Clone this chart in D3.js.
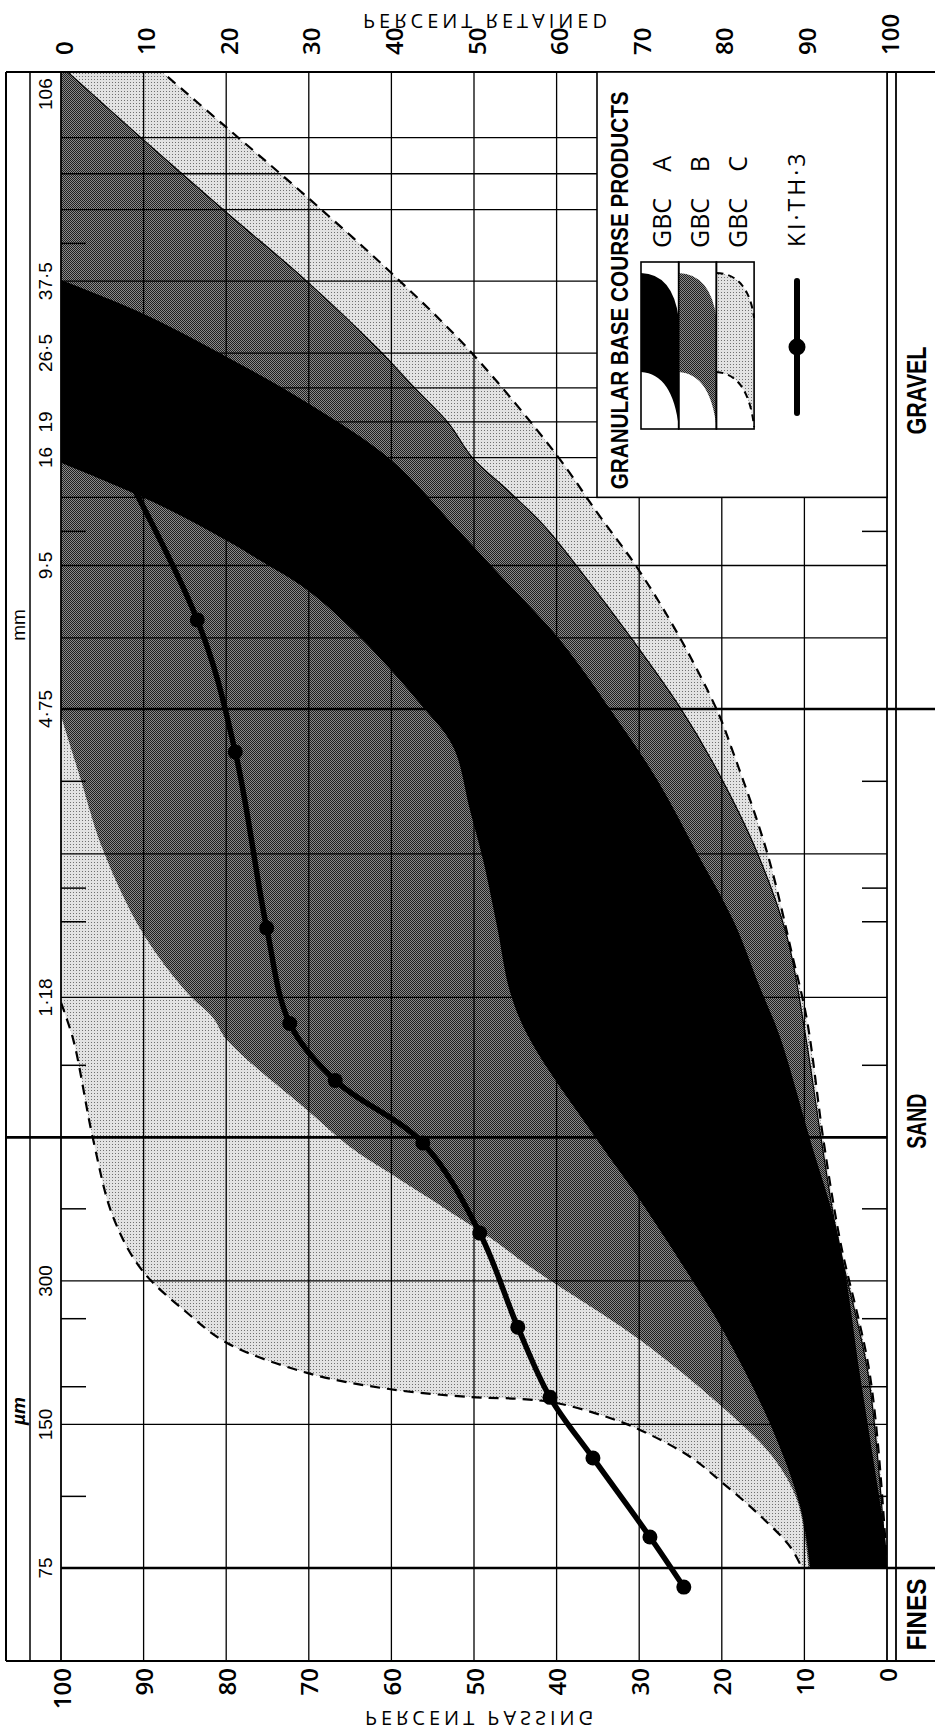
<!DOCTYPE html>
<html>
<head>
<meta charset="utf-8">
<script src="https://cdn.jsdelivr.net/npm/d3@7/dist/d3.min.js"></script>
<style>
    html, body { margin: 0; padding: 0; background: #fff; }
    svg { display: block; }
</style>
</head>
<body>
<div id="chart"></div>
<script>
// axis ticks
const percentTicks = [100, 90, 80, 70, 60, 50, 40, 30, 20, 10, 0]
const retainedTicks = [0, 10, 20, 30, 40, 50, 60, 70, 80, 90, 100]

// sieve sizes, mm
const sieveLines = [75, 63, 53, 37.5, 26.5, 22.4, 19, 16, 13.2, 9.5, 6.7, 4.75, 2.36, 1.18, 0.6, 0.3, 0.15, 0.075]
const sieveTicks = [45, 11.2, 3.35, 2, 1.7, 0.85, 0.425, 0.25, 0.18, 0.106]
const sieveLabels = [[37.5, `37·5`], [26.5, `26·5`], [19, `19`], [16, `16`], [9.5, `9·5`], [4.75, `4·75`], [1.18, `1·18`], [0.3, `300`], [0.15, `150`], [0.075, `75`]]
const zones = [[`GRAVEL`, 106, 4.75], [`SAND`, 4.75, 0.075], [`FINES`, 0.075, null]]

// envelopes: [sieve mm, % passing]
const gbcALower = [[37.7, 100], [32.2, 90.3], [26, 79.9], [20.8, 70.1], [15.8, 60], [11.3, 52], [9.2, 47.2], [6.63, 39.6], [4.66, 33.2], [3.37, 27.8], [2.37, 23], [1.71, 18.6], [1.24, 15.4], [0.98, 13], [0.593, 9.3], [0.366, 5.8], [0.192, 3.3], [0.128, 1.7], [0.086, 0.2], [0.075, 0]]
const gbcAUpper = [[15.6, 100], [12.85, 88.6], [10.7, 79.9], [9.75, 76], [8.44, 70.2], [6.72, 63.8], [4.8, 56.2], [3.95, 52.5], [2.92, 50.5], [2.29, 48.9], [1.66, 47.2], [1.205, 45.6], [0.96, 43.2], [0.593, 35.1], [0.443, 29.9], [0.283, 22.6], [0.237, 19.9], [0.151, 14.2], [0.1007, 10.5], [0.075, 9.3]]

const gbcBLower = [[106, 100], [76, 90.7], [52.1, 79.9], [38.1, 70.7], [26.9, 61.5], [22.5, 57.3], [18.9, 53.1], [16, 50.2], [13.5, 45.6], [11.5, 41.5], [9.3, 37.2], [6.63, 30.8], [4.8, 25.1], [3.54, 20.6], [2.37, 15.7], [1.58, 12.1], [0.99, 9.9], [0.6, 8], [0.37, 6], [0.192, 2.3], [0.086, 0.3], [0.075, 0]]
const gbcBUpper = [[4.6, 100], [3.42, 97.7], [2.4, 94.9], [1.61, 90.1], [1.205, 84.7], [1.07, 81.6], [0.96, 79.9], [0.685, 70.2], [0.573, 65], [0.505, 60.2], [0.429, 53.8], [0.366, 47.7], [0.332, 44.4], [0.301, 40.8], [0.2256, 29.9], [0.163, 19.9], [0.128, 13.8], [0.103, 10.8], [0.075, 9.5]]

const gbcCLower = [[106, 88.6], [78.6, 79.9], [56.3, 70.2], [39, 60], [26.9, 50.6], [16.2, 40], [12.2, 35], [9.43, 30.3], [6.86, 25.4], [4.73, 20.6], [3.84, 18.6], [2.37, 14.5], [1.43, 11.4], [1.06, 9.7], [0.593, 7.7], [0.366, 5.7], [0.192, 2.1], [0.086, 0.2], [0.075, 0]]
const gbcCUpper = [[1.15, 100], [0.96, 98.5], [0.593, 96.1], [0.409, 93.7], [0.316, 90.2], [0.257, 84.7], [0.2224, 79.9], [0.1924, 70.2], [0.178, 60.3], [0.1713, 50.4], [0.1697, 44.4], [0.1664, 40], [0.1555, 33.9], [0.1461, 29.9], [0.1282, 23.8], [0.1131, 19.9], [0.0978, 15.7], [0.083, 11.7], [0.075, 10.3]]

// sample KI-TH-3
const kith3 = [[26.5, 100], [7.3, 83.5], [3.86, 78.9], [1.65, 75.1], [1.04, 72.3], [0.79, 66.8], [0.584, 56.2], [0.378, 49.3], [0.24, 44.7], [0.171, 40.8], [0.1276, 35.6], [0.0871, 28.7], [0.0684, 24.6]]

const width = 935, height = 1736
const frame = { outer: 6, col: 30, top: 72, bottom: 1661, right: 896, edge: 935 }

const x = d3.scaleLinear().domain([100, 0]).range([61, 887])
const xr = d3.scaleLinear().domain([0, 100]).range([61, 887])
const y = d3.scaleLog().domain([106, 0.075]).range([66, 1568])

const svg = d3.select(`#chart`).append(`svg`).attr(`width`, width).attr(`height`, height)
const defs = svg.append(`defs`)

const patB = defs.append(`pattern`).attr(`id`, `stippleB`).attr(`width`, 2).attr(`height`, 2).attr(`patternUnits`, `userSpaceOnUse`)
patB.append(`rect`).attr(`width`, 2).attr(`height`, 2).attr(`fill`, `#8a8a8a`)
patB.append(`rect`).attr(`width`, 1).attr(`height`, 1).attr(`fill`, `#1e1e1e`)
patB.append(`rect`).attr(`x`, 1).attr(`y`, 1).attr(`width`, 1).attr(`height`, 1).attr(`fill`, `#1e1e1e`)

const patC = defs.append(`pattern`).attr(`id`, `stippleC`).attr(`width`, 3).attr(`height`, 3).attr(`patternUnits`, `userSpaceOnUse`)
patC.append(`rect`).attr(`width`, 3).attr(`height`, 3).attr(`fill`, `#e2e2e2`)
patC.append(`rect`).attr(`x`, 1).attr(`y`, 1).attr(`width`, 1).attr(`height`, 1).attr(`fill`, `#707070`)

defs.append(`clipPath`).attr(`id`, `plotClip`).append(`rect`)
    .attr(`x`, x(100)).attr(`y`, frame.top).attr(`width`, x(0) - x(100)).attr(`height`, frame.bottom - frame.top)

const curve = d3.line().x(d => x(d[1])).y(d => y(d[0])).curve(d3.curveCatmullRom.alpha(0.5))

function bandPath(lower, upper, corner) {
    let d = curve(lower) + `L` + curve(upper.slice().reverse()).slice(1)
    if(corner) d = `M${x(corner[1])},${y(corner[0])}L` + d.slice(1)
    return d + `Z`
}

const plot = svg.append(`g`).attr(`clip-path`, `url(#plotClip)`)

plot.append(`path`).attr(`d`, bandPath(gbcCLower, gbcCUpper, [106, 100])).attr(`fill`, `url(#stippleC)`)
plot.append(`path`).attr(`d`, bandPath(gbcBLower, gbcBUpper)).attr(`fill`, `url(#stippleB)`)
plot.append(`path`).attr(`d`, bandPath(gbcALower, gbcAUpper)).attr(`fill`, `#000`)

// grid
const grid = svg.append(`g`).attr(`stroke`, `#000`)
percentTicks.forEach(p => {
    grid.append(`line`).attr(`x1`, x(p)).attr(`x2`, x(p)).attr(`y1`, frame.top).attr(`y2`, frame.bottom)
        .attr(`stroke-width`, p === 100 || p === 0 ? 1.8 : 1.3)
})
sieveLines.forEach(s => {
    const heavy = s === 4.75 || s === 0.6 || s === 0.075
    let x1 = x(100), x2 = x(0)
    if(s === 0.6) x1 = frame.outer
    if(s === 4.75 || s === 0.075) x2 = frame.edge
    grid.append(`line`).attr(`x1`, x1).attr(`x2`, x2).attr(`y1`, y(s)).attr(`y2`, y(s))
        .attr(`stroke-width`, heavy ? 2.6 : 1.3)
})
sieveTicks.forEach(s => {
    grid.append(`line`).attr(`x1`, x(100)).attr(`x2`, x(100) + 25).attr(`y1`, y(s)).attr(`y2`, y(s)).attr(`stroke-width`, 1.5)
    grid.append(`line`).attr(`x1`, x(0) - 25).attr(`x2`, x(0)).attr(`y1`, y(s)).attr(`y2`, y(s)).attr(`stroke-width`, 1.5)
})

// envelope outlines
plot.append(`path`).attr(`d`, curve(gbcBLower)).attr(`fill`, `none`).attr(`stroke`, `#000`).attr(`stroke-width`, 1.2)
plot.append(`path`).attr(`d`, curve(gbcCLower)).attr(`fill`, `none`).attr(`stroke`, `#000`).attr(`stroke-width`, 2.2).attr(`stroke-dasharray`, `10,7`)
plot.append(`path`).attr(`d`, curve(gbcCUpper)).attr(`fill`, `none`).attr(`stroke`, `#000`).attr(`stroke-width`, 2.2).attr(`stroke-dasharray`, `10,7`)

// KI-TH-3
plot.append(`path`).attr(`d`, curve(kith3)).attr(`fill`, `none`).attr(`stroke`, `#000`).attr(`stroke-width`, 5.5).attr(`stroke-linecap`, `round`)
plot.selectAll(`circle.ki`).data(kith3).join(`circle`).attr(`class`, `ki`)
    .attr(`cx`, d => x(d[1])).attr(`cy`, d => y(d[0])).attr(`r`, 7.5).attr(`fill`, `#000`)

// frame
const fr = svg.append(`g`).attr(`stroke`, `#000`).attr(`fill`, `none`)
fr.append(`line`).attr(`x1`, frame.outer).attr(`x2`, frame.edge).attr(`y1`, frame.top).attr(`y2`, frame.top).attr(`stroke-width`, 2)
fr.append(`line`).attr(`x1`, frame.outer).attr(`x2`, frame.edge).attr(`y1`, frame.bottom).attr(`y2`, frame.bottom).attr(`stroke-width`, 2)
fr.append(`line`).attr(`x1`, frame.outer).attr(`x2`, frame.outer).attr(`y1`, frame.top).attr(`y2`, frame.bottom).attr(`stroke-width`, 2)
fr.append(`line`).attr(`x1`, frame.col).attr(`x2`, frame.col).attr(`y1`, frame.top).attr(`y2`, frame.bottom).attr(`stroke-width`, 1.5)
fr.append(`line`).attr(`x1`, frame.right).attr(`x2`, frame.right).attr(`y1`, frame.top).attr(`y2`, frame.bottom).attr(`stroke-width`, 1.8)

// legend
const legTop = frame.top, legBottom = y(13.2), legLeft = 597, legRight = x(0)
const leg = svg.append(`g`)
leg.append(`rect`).attr(`x`, legLeft).attr(`y`, legTop).attr(`width`, legRight - legLeft).attr(`height`, legBottom - legTop)
    .attr(`fill`, `#fff`).attr(`stroke`, `#000`).attr(`stroke-width`, 1.6)

function vtext(g, tx, ty, str, anchor) {
    return g.append(`text`).attr(`transform`, `translate(${tx},${ty}) rotate(-90)`)
        .attr(`text-anchor`, anchor).attr(`dominant-baseline`, `central`).text(str)
}

vtext(leg, 619, legBottom - 8, `GRANULAR BASE COURSE PRODUCTS`, `start`)
    .attr(`font-family`, `'Liberation Sans Narrow', 'Liberation Sans', sans-serif`).attr(`font-weight`, 700)
    .attr(`font-size`, 24).attr(`textLength`, 398).attr(`lengthAdjust`, `spacingAndGlyphs`)

const swatchTop = 262, swatchBottom = 429, swatchW = 37.7, swatchLeft = 641
const swatches = [[`A`, `#000`, null], [`B`, `url(#stippleB)`, null], [`C`, `url(#stippleC)`, `7,5`]]
swatches.forEach((s, i) => {
    const xl = swatchLeft + i * swatchW, xr2 = xl + swatchW
    const top = `M${xl},273 Q${xr2 - 6},274 ${xr2},318`
    const bot = `M${xl},372 Q${xr2 - 6},374 ${xr2},427`
    leg.append(`path`).attr(`d`, `M${xl},273 Q${xr2 - 6},274 ${xr2},318 L${xr2},427 Q${xr2 - 6},374 ${xl},372 Z`).attr(`fill`, s[1])
    if(s[2]) {
        leg.append(`path`).attr(`d`, top).attr(`fill`, `none`).attr(`stroke`, `#000`).attr(`stroke-width`, 2).attr(`stroke-dasharray`, s[2])
        leg.append(`path`).attr(`d`, bot).attr(`fill`, `none`).attr(`stroke`, `#000`).attr(`stroke-width`, 2).attr(`stroke-dasharray`, s[2])
    }
    leg.append(`rect`).attr(`x`, xl).attr(`y`, swatchTop).attr(`width`, swatchW).attr(`height`, swatchBottom - swatchTop)
        .attr(`fill`, `none`).attr(`stroke`, `#000`).attr(`stroke-width`, 1.6)
    const tx = 661 + i * 38
    vtext(leg, tx, 248, `GBC`, `start`).attr(`font-family`, `'Open Sans', sans-serif`).attr(`font-size`, 25)
    vtext(leg, tx, 156, s[0], `end`).attr(`font-family`, `'Open Sans', sans-serif`).attr(`font-size`, 25)
})

leg.append(`line`).attr(`x1`, 797).attr(`x2`, 797).attr(`y1`, 281).attr(`y2`, 413).attr(`stroke`, `#000`).attr(`stroke-width`, 6).attr(`stroke-linecap`, `round`)
leg.append(`circle`).attr(`cx`, 797).attr(`cy`, 347).attr(`r`, 8.5).attr(`fill`, `#000`)
vtext(leg, 796, 247, `KI·TH·3`, `start`).attr(`font-family`, `'Open Sans', sans-serif`).attr(`font-size`, 23)
    .attr(`letter-spacing`, 3)

// axis labels
const num = svg.append(`g`).attr(`font-family`, `'Open Sans', sans-serif`).attr(`font-weight`, 600).attr(`font-size`, 24).attr(`fill`, `#000`)
percentTicks.forEach(p => vtext(num, x(p), 1668, String(p), `end`))
retainedTicks.forEach(r => vtext(num, xr(r) + 2, 55, String(r), `start`))

const sv = svg.append(`g`).attr(`font-family`, `'Liberation Sans', sans-serif`).attr(`font-size`, 19).attr(`fill`, `#000`)
sieveLabels.forEach(d => vtext(sv, 45.5, y(d[0]), d[1], `middle`))
vtext(sv, 45.5, 110, `106`, `start`)
vtext(sv, 18, 625, `mm`, `middle`)
vtext(sv, 18, 1411, `µm`, `middle`).attr(`font-style`, `italic`).attr(`font-weight`, 700)

const zoneLen = { GRAVEL: 88, SAND: 55, FINES: 72 }
const zn = svg.append(`g`).attr(`font-family`, `'Liberation Sans Narrow', 'Liberation Sans', sans-serif`).attr(`font-weight`, 700).attr(`font-size`, 27)
zones.forEach(z => {
    const y0 = Math.max(y(z[1]), frame.top), y1 = z[2] === null ? frame.bottom : y(z[2])
    const mid = z[0] === `SAND` ? y0 + (y1 - y0) * 0.48 : (y0 + y1) / 2
    vtext(zn, 917, mid, z[0], `middle`).attr(`textLength`, zoneLen[z[0]]).attr(`lengthAdjust`, `spacingAndGlyphs`)
})

function flipped(cx, cy, str) {
    svg.append(`text`).attr(`transform`, `translate(${cx},${cy}) scale(1,-1)`)
        .attr(`text-anchor`, `middle`).attr(`dominant-baseline`, `central`)
        .attr(`font-family`, `'Open Sans', sans-serif`).attr(`font-size`, 20).attr(`letter-spacing`, 4)
        .text(str)
}
flipped(481, 1718, `PERCENT PASSING`)
flipped(487, 21, `PERCENT RETAINED`)
</script>
</body>
</html>
